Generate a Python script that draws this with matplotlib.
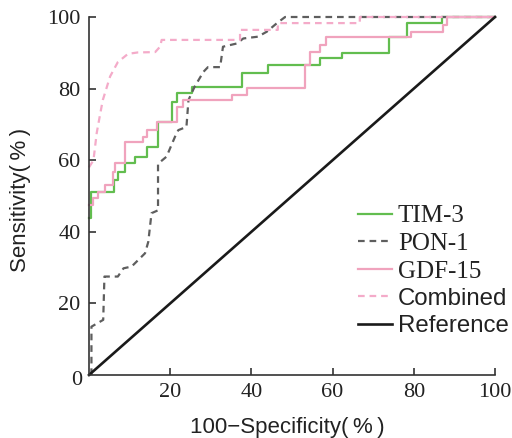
import matplotlib
matplotlib.use("Agg")
import matplotlib.pyplot as plt

# ---- data ----
tim3_x = [0, 0.5, 6.2, 7.1, 8.9, 11.3, 14.2, 16.9, 20.4, 21.6, 25.3, 37.7, 44, 57, 62.3, 74, 78.3, 87, 100]
tim3_y = [43.8, 51, 54.5, 56.7, 59.2, 61, 63.8, 70.7, 76.3, 78.7, 80.5, 84.3, 86.6, 88.5, 90, 94.3, 98.3, 100, 100]

gdf_x = [0, 1.1, 2.3, 3.9, 5.9, 6.4, 8.9, 13.3, 14.2, 16.7, 21.6, 23.2, 35.1, 38.8, 53.2, 54.4, 57, 58.4, 79.3, 87.3, 88.1, 100]
gdf_y = [47.5, 49.4, 51.2, 53, 56.8, 59.2, 65.2, 66.6, 68.4, 70.8, 74.9, 76.8, 78.2, 80.3, 86.6, 90.3, 92.2, 94.3, 95.9, 97.8, 100, 100]

pon_x = [0.6, 0.6, 3.5, 3.8, 7.1, 8.5, 10.5, 13.8, 14.6, 15.4, 17, 17, 19.1, 21.2, 22, 24, 24.5, 26, 28.2, 29.3, 32.3, 33, 36.4, 38, 41.6, 43.8, 46.2, 48.3, 100]
pon_y = [0, 13.5, 15.4, 27.5, 27.5, 29.8, 30.3, 34, 37.2, 45.2, 46, 59, 61, 66.6, 68.4, 69.3, 76.8, 80.5, 84.7, 86, 86, 91.7, 92.6, 94, 94.5, 95.9, 98.2, 100, 100]

comb_x = [0, 1.1, 1.9, 2.7, 3.4, 5.2, 7.1, 9.6, 12, 16.3, 17.5, 17.9, 37.2, 37.2, 46.5, 46.5, 66.7, 66.7, 100]
comb_y = [58, 60, 67.6, 72.6, 76.8, 83.4, 87.4, 89.7, 90.1, 90.2, 91.7, 93.6, 93.6, 96.4, 96.4, 98.3, 98.3, 100, 100]

ref_x = [0, 100]
ref_y = [0, 100]

ticks = [20, 40, 60, 80, 100]
labels = ["TIM-3", "PON-1", "GDF-15", "Combined", "Reference"]

W, H = 512, 438
fig = plt.figure(figsize=(W / 100, H / 100), dpi=100)
ax = fig.add_axes([89 / W, 1 - 375 / H, (495 - 89) / W, (375 - 17) / H])

green = "#62bd4f"
pink = "#f0a3bd"
pinkd = "#f4abc9"
gray = "#5e5e5e"

l1, = ax.plot(tim3_x, tim3_y, drawstyle="steps-post", color=green, lw=1.6, clip_on=False)
l2, = ax.plot(pon_x, pon_y, color=gray, lw=1.6, ls=(0, (3, 2.2)), clip_on=False)
l3, = ax.plot(gdf_x, gdf_y, drawstyle="steps-post", color=pink, lw=1.6, clip_on=False)
l4, = ax.plot(comb_x, comb_y, color=pinkd, lw=1.6, ls=(0, (3, 2.2)), clip_on=False)
l5, = ax.plot(ref_x, ref_y, color="#1a1a1a", lw=1.9, clip_on=False)

ax.set_xlim(0, 100)
ax.set_ylim(0, 100)
for s in ["top", "right"]:
    ax.spines[s].set_visible(False)
for s in ["left", "bottom"]:
    ax.spines[s].set_color("#333333")
    ax.spines[s].set_linewidth(1.2)

ax.set_xticks(ticks)
ax.set_yticks(ticks)
ax.set_xticklabels([str(t) for t in ticks])
ax.set_yticklabels([str(t) for t in ticks])
ax.tick_params(direction="in", length=5, width=1.2, color="#333333",
               labelsize=16, pad=6)
for lab in ax.get_xticklabels() + ax.get_yticklabels():
    lab.set_fontfamily("Liberation Serif")
    lab.set_color("#222222")
ax.text(-1.7, -1.4, "0", ha="right", va="center", fontsize=16,
        family="Liberation Serif", color="#222222")

fam = ["Liberation Sans", "DejaVu Sans"]
fig.text(287 / W, 1 - 427 / H, "100−Specificity(\u2009%\u2009)", ha="center", va="center",
         fontsize=16, family=fam, color="#222222")
fig.text(21 / W, 1 - 200 / H, "Sensitivity(\u2009%\u2009)", ha="center", va="center",
         rotation=90, fontsize=16, family=fam, color="#222222")

leg = ax.legend([l1, l2, l3, l4, l5], labels, frameon=False, loc="upper left",
                bbox_to_anchor=(358 / W, 1 - 205 / H), bbox_transform=fig.transFigure,
                handlelength=1.36, handletextpad=0.24, labelspacing=0.2,
                fontsize=18, borderpad=0, borderaxespad=0)
for i, t in enumerate(leg.get_texts()):
    if i < 3:
        t.set_fontfamily("Liberation Serif")
    else:
        t.set_fontfamily("Liberation Sans")
        t.set_fontsize(17.3)
    t.set_color("#222222")

fig.savefig("out.png", dpi=100)
